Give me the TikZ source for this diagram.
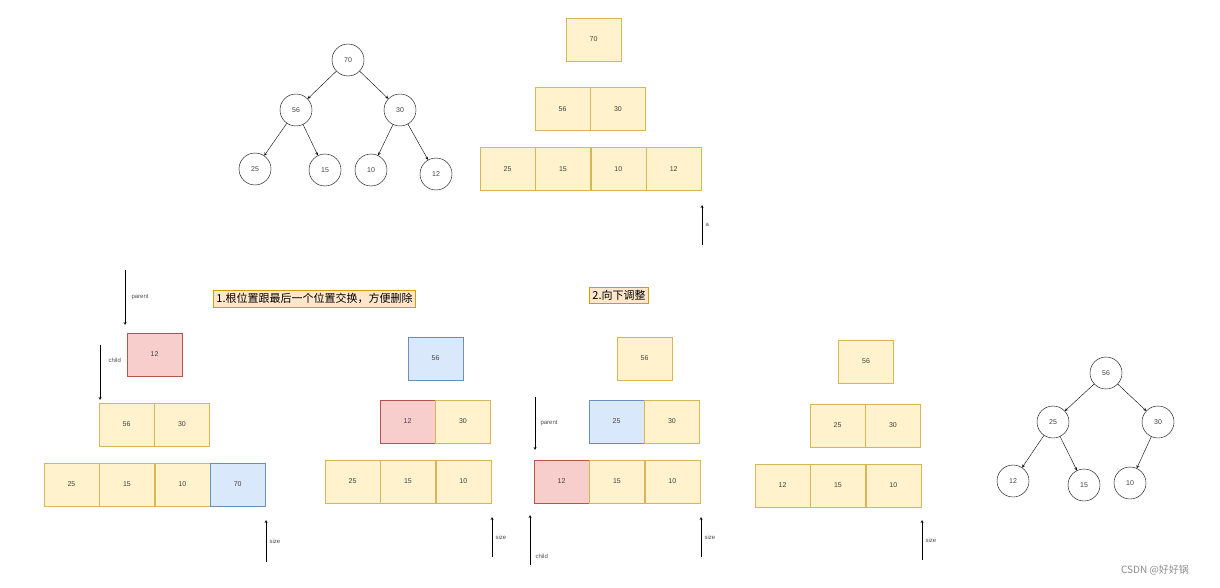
\documentclass[tikz,border=0pt]{standalone}
\usepackage{fontspec}
\setmainfont{Liberation Sans}
\newfontfamily\cjk{Noto Sans CJK SC}
\usetikzlibrary{arrows,shapes,positioning}
\definecolor{ylfill}{HTML}{FFF2CC}
\definecolor{yldraw}{HTML}{D6B656}
\definecolor{rdfill}{HTML}{F8CECC}
\definecolor{rddraw}{HTML}{B85450}
\definecolor{blfill}{HTML}{DAE8FC}
\definecolor{bldraw}{HTML}{6C8EBF}
\definecolor{tifill}{HTML}{FFE6CC}
\definecolor{tidraw}{HTML}{D79B00}
\tikzset{
  cell/.style   = {draw=yldraw, fill=ylfill, minimum width=55pt, minimum height=43pt,
                   inner sep=0pt, font=\fontsize{7}{8}\selectfont, text=black!75},
  hot/.style    = {cell, draw=rddraw, fill=rdfill},
  cold/.style   = {cell, draw=bldraw, fill=blfill},
  knot/.style   = {draw, circle, minimum size=32pt, inner sep=0pt,
                   font=\fontsize{7}{8}\selectfont, text=black!75},
  title/.style  = {draw=tidraw, fill=tifill, font=\cjk\fontsize{11}{13}\selectfont,
                   inner sep=3pt},
  tag/.style    = {font=\fontsize{6}{7}\selectfont, text=black!70, anchor=west}
}
\begin{document}
\begin{tikzpicture}[x=1pt, y=-1pt, >=stealth]
\useasboundingbox (0,0) rectangle (1220,588);

% initial heap as a tree
\node[knot] (t70) at (348,60) {70};
\node[knot] (t56) at (296,110) {56};
\node[knot] (t30) at (400,110) {30};
\node[knot] (t25) at (255,169) {25};
\node[knot] (t15) at (325,170) {15};
\node[knot] (t10) at (371,170) {10};
\node[knot] (t12) at (436,174) {12};
\foreach \a/\b in {70/56,70/30,56/25,56/15,30/10,30/12}
  \draw[->] (t\a) -- (t\b);

% initial heap as an array
\node[cell] (a70) at (593.5,39.5) {70};
\node[cell] (a56) at (562.5,109) {56};
\node[cell, right=0pt of a56] (a30) {30};
\node[cell] (a25) at (507.5,169) {25};
\node[cell, right=0pt of a25] (a15) {15};
\node[cell, right=0pt of a15] (a10) {10};
\node[cell, right=0pt of a10] (a12) {12};
\coordinate (as) at (702,245);
\draw[->] (as) -- ++(0,-40) node[tag, midway] {a};

% step titles
\node[title] (s1) at (314.5,298.5) {1.根位置跟最后一个位置交换，方便删除};
\node[title] (s2) at (619,295.5) {2.向下调整};

% panel 1
\node[hot] (p12) at (154.5,354.5) {12};
\node[cell] (p56) at (126.5,424.5) {56};
\node[cell, right=0pt of p56] (p30) {30};
\node[cell] (p25) at (71.5,484.5) {25};
\node[cell, right=0pt of p25] (p15) {15};
\node[cell, right=0pt of p15] (p10) {10};
\node[cold, right=0pt of p10] (p70) {70};
\coordinate (pp) at (125,270);
\coordinate (pc) at (100,345);
\coordinate (ps) at (266,562);
\draw[->] (pp) -- ++(0,55) node[tag, midway, xshift=3pt] {parent};
\draw[->] (pc) -- ++(0,55) node[tag, near start, yshift=-2pt, xshift=5pt] {child};
\draw[->] (ps) -- ++(0,-42) node[tag, midway] {size};

% panel 2
\node[cold] (q56) at (435.5,358.5) {56};
\node[hot] (q12) at (407.5,421.5) {12};
\node[cell, right=0pt of q12] (q30) {30};
\node[cell] (q25) at (352.5,481.5) {25};
\node[cell, right=0pt of q25] (q15) {15};
\node[cell, right=0pt of q15] (q10) {10};
\coordinate (qs) at (492,557);
\draw[->] (qs) -- ++(0,-40) node[tag, midway] {size};

% panel 3
\node[cell] (r56) at (644.5,358.5) {56};
\node[cold] (r25) at (616.5,421.5) {25};
\node[cell, right=0pt of r25] (r30) {30};
\node[hot] (r12) at (561.5,481.5) {12};
\node[cell, right=0pt of r12] (r15) {15};
\node[cell, right=0pt of r15] (r10) {10};
\coordinate (rp) at (535,397);
\coordinate (rc) at (530,565);
\coordinate (rs) at (701,557);
\draw[->] (rp) -- ++(0,53) node[tag, midway, xshift=2pt] {parent};
\draw[->] (rc) -- ++(0,-50) node[tag, near start, yshift=-4pt, xshift=2pt] {child};
\draw[->] (rs) -- ++(0,-40) node[tag, midway] {size};

% panel 4
\node[cell] (u56) at (866,361.5) {56};
\node[cell] (u25) at (837.5,425.5) {25};
\node[cell, right=0pt of u25] (u30) {30};
\node[cell] (u12) at (782.5,485.5) {12};
\node[cell, right=0pt of u12] (u15) {15};
\node[cell, right=0pt of u15] (u10) {10};
\coordinate (us) at (922,560);
\draw[->] (us) -- ++(0,-40) node[tag, midway] {size};

% resulting heap as a tree
\node[knot] (h56) at (1106,373) {56};
\node[knot] (h25) at (1053,422) {25};
\node[knot] (h30) at (1158,422) {30};
\node[knot] (h12) at (1013,481) {12};
\node[knot] (h15) at (1084,485) {15};
\node[knot] (h10) at (1130,483) {10};
\foreach \a/\b in {56/25,56/30,25/12,25/15,30/10}
  \draw[->] (h\a) -- (h\b);

\node[font=\cjk\fontsize{10}{12}\selectfont, text=black!45] (mark) at (1155,570) {CSDN @好好锅};
\end{tikzpicture}
\end{document}
